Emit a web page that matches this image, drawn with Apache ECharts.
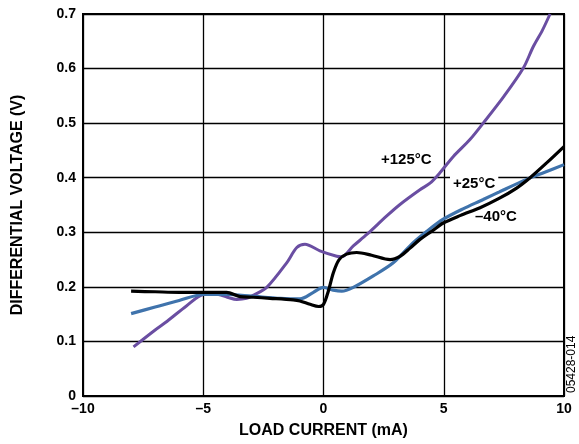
<!DOCTYPE html>
<html>
<head>
<meta charset="utf-8">
<script src="https://cdn.jsdelivr.net/npm/echarts@6/dist/echarts.min.js"></script>
<style>
html,body{margin:0;padding:0;background:#fff;}
#chart{width:579px;height:444px;}
</style>
</head>
<body>
<div id="chart"></div>
<script>
// Load current (mA) vs differential voltage (V)
const xTickLabels = {'-10':'–10','-5':'–5','0':'0','5':'5','10':'10'};
const yTickLabels = {'0':'0','0.1':'0.1','0.2':'0.2','0.3':'0.3','0.4':'0.4','0.5':'0.5','0.6':'0.6','0.7':'0.7'};

const curve125 = [
  [-7.9,0.090],[-7.0,0.121],[-6.5,0.137],[-5.7,0.165],[-5.0,0.186],[-4.5,0.187],
  [-4.0,0.181],[-3.6,0.177],[-3.2,0.179],[-2.9,0.185],[-2.36,0.199],[-1.53,0.244],
  [-1.11,0.272],[-0.77,0.278],[-0.15,0.266],[0.55,0.256],[0.75,0.255],[1.24,0.275],
  [1.8,0.296],[2.63,0.330],[3.18,0.351],[4.01,0.378],[4.43,0.390],[4.84,0.409],
  [5.4,0.439],[6.09,0.470],[6.64,0.500],[7.5,0.549],[8.31,0.601],[8.72,0.640],[9.1,0.670],[9.42,0.700]
];
const curve25 = [
  [-8.0,0.151],[-7.0,0.163],[-6.0,0.175],[-5.0,0.186],[-4.0,0.186],[-3.0,0.183],
  [-1.8,0.179],[-0.98,0.178],[-0.42,0.190],[0.0,0.199],[0.4,0.194],[0.76,0.192],
  [1.24,0.199],[2.07,0.220],[2.9,0.244],[3.73,0.281],[4.3,0.302],[4.98,0.324],
  [5.8,0.343],[6.64,0.360],[7.5,0.378],[8.45,0.397],[9.2,0.410],[10.0,0.424]
];
const curveMinus40 = [
  [-8.0,0.192],[-7.0,0.191],[-6.0,0.190],[-5.0,0.190],[-4.03,0.190],[-3.47,0.182],
  [-2.92,0.181],[-2.22,0.179],[-1.26,0.176],[-0.98,0.174],[-0.56,0.168],[-0.2,0.164],
  [0.0,0.168],[0.2,0.192],[0.41,0.226],[0.65,0.250],[0.96,0.260],[1.38,0.263],
  [2.0,0.258],[2.77,0.250],[3.18,0.256],[3.6,0.271],[4.01,0.287],[4.5,0.302],
  [4.98,0.317],[5.7,0.331],[6.51,0.345],[7.3,0.362],[8.03,0.381],[8.59,0.400],
  [9.3,0.428],[10.0,0.457]
];
const seriesNames = ['+125°C','+25°C','–40°C'];

const chart = echarts.init(document.getElementById('chart'), null, {renderer:'canvas'});
const font = 'Liberation Sans, Arial, Helvetica, sans-serif';
const fmt = (map) => (v) => {
  const k = String(Math.round(v*10)/10);
  return map[k] !== undefined ? map[k] : k;
};
chart.setOption({
  animation:false,
  backgroundColor:'#fff',
  grid:{left:83,right:15,top:14,bottom:47,show:true,borderColor:'#000',borderWidth:2,backgroundColor:'transparent'},
  xAxis:{
    type:'value',min:-10,max:10,interval:5,
    name:'LOAD CURRENT (mA)',nameLocation:'middle',nameGap:27,
    nameTextStyle:{fontFamily:font,fontWeight:'bold',fontSize:16,color:'#000'},
    axisLine:{show:false},axisTick:{show:false},
    axisLabel:{formatter:fmt(xTickLabels),fontFamily:font,fontWeight:'bold',fontSize:14,color:'#000',margin:6},
    splitLine:{show:true,lineStyle:{color:'#000',width:1.3}}
  },
  yAxis:{
    type:'value',min:0,max:0.7,interval:0.1,
    name:'DIFFERENTIAL VOLTAGE (V)',nameLocation:'middle',nameGap:57,
    nameTextStyle:{fontFamily:font,fontWeight:'bold',fontSize:16,color:'#000'},
    axisLine:{show:false},axisTick:{show:false},
    axisLabel:{formatter:fmt(yTickLabels),fontFamily:font,fontWeight:'bold',fontSize:14,color:'#000',margin:7},
    splitLine:{show:true,lineStyle:{color:'#000',width:1.3}}
  },
  series:[
    {name:seriesNames[0],type:'line',data:curve125,smooth:0.3,symbol:'none',clip:true,
     lineStyle:{color:'#6A4EA2',width:3}},
    {name:seriesNames[1],type:'line',data:curve25,smooth:0.3,symbol:'none',clip:true,
     lineStyle:{color:'#3F73AC',width:3.2}},
    {name:seriesNames[2],type:'line',data:curveMinus40,smooth:0.3,symbol:'none',clip:true,
     lineStyle:{color:'#000',width:3.2}}
  ],
  graphic:[
    {type:'text',left:381,top:152,z:10,style:{text:seriesNames[0],font:'bold 15px '+font,fill:'#000'}},
    {type:'text',left:450,top:174,z:10,style:{text:seriesNames[1],font:'bold 15px '+font,fill:'#000',backgroundColor:'#fff',padding:[2,3,0,3]}},
    {type:'text',left:475,top:209,z:10,style:{text:seriesNames[2],font:'bold 15px '+font,fill:'#000'}},
    {type:'text',x:572,y:393,rotation:Math.PI/2,z:10,style:{text:'05428-014',font:'12px '+font,fill:'#000',textAlign:'left',textVerticalAlign:'middle'}}
  ]
});
</script>
</body>
</html>
